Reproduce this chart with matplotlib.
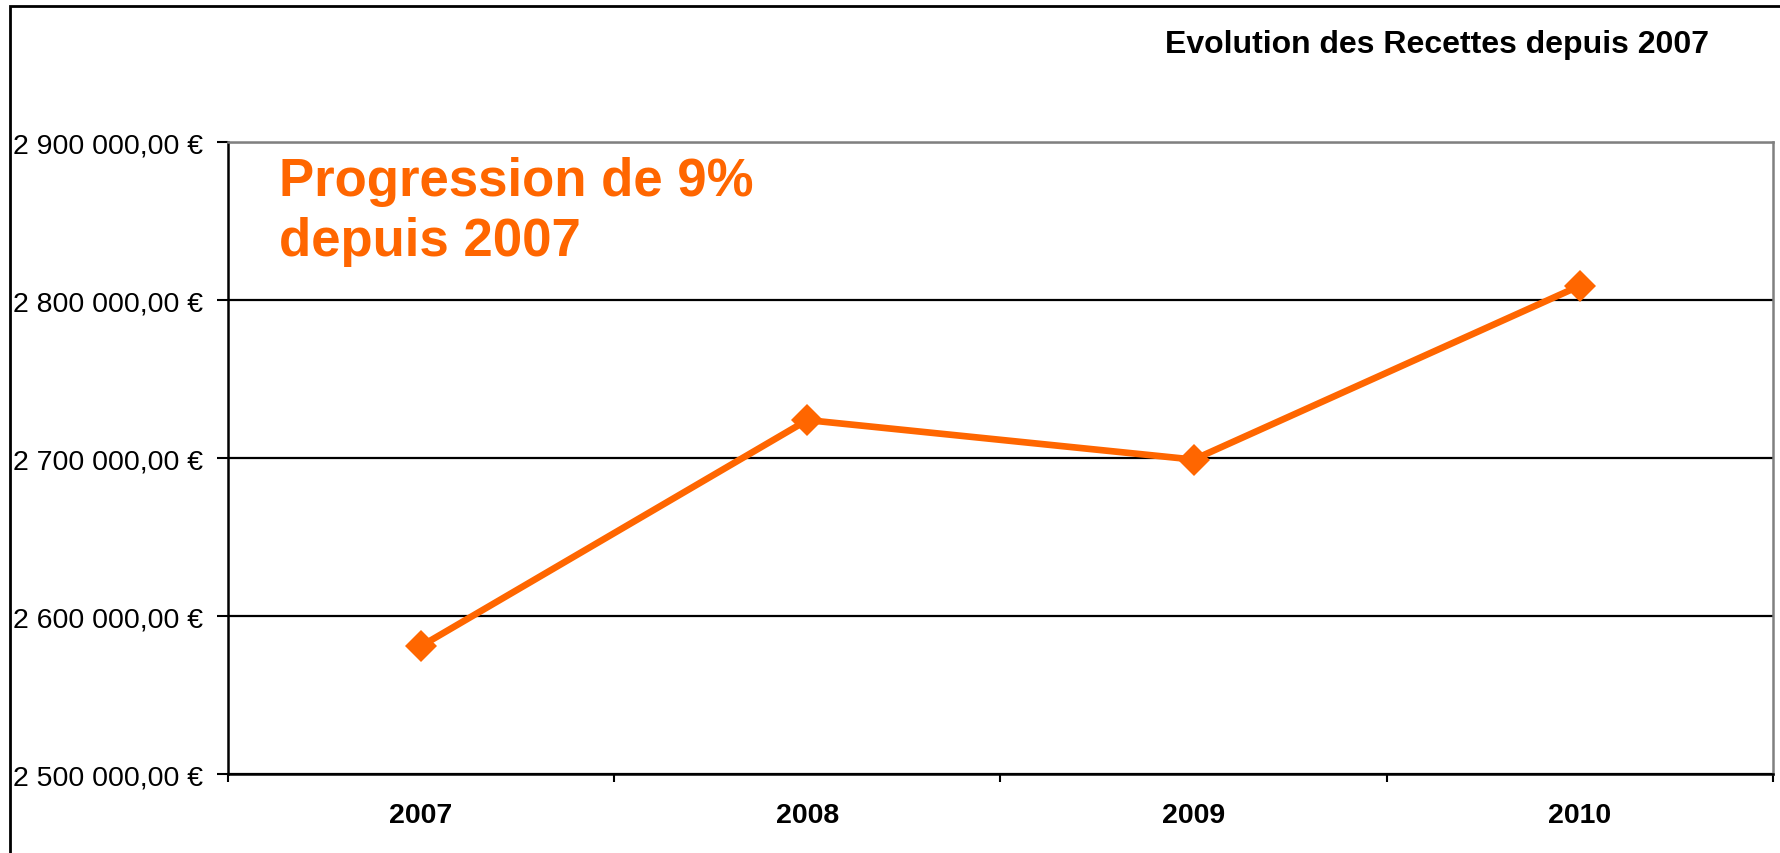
import matplotlib
matplotlib.use("Agg")
import matplotlib.pyplot as plt
from matplotlib.ticker import FuncFormatter, FixedLocator
from matplotlib.patches import Rectangle

plt.rcParams['font.family'] = ['Liberation Sans', 'DejaVu Sans']

# data
years = ["2007", "2008", "2009", "2010"]
recettes = [2581000, 2724000, 2699000, 2809000]

orange = '#FF6600'

def euro(v, pos):
    s = "{:,.2f}".format(v).replace(",", " ").replace(".", ",")
    return s + " €"

fig = plt.figure(figsize=(17.81, 8.54), dpi=100)
ax = fig.add_axes([228/1781, 1-775/854, (1773-228)/1781, (775-143)/854])

x = list(range(len(years)))
ax.plot(x, recettes, color=orange, linewidth=4.8, marker='D', markersize=16,
        markeredgewidth=0, zorder=3)

ax.set_xlim(-0.5, len(years) - 0.5)
ax.set_ylim(2500000, 2900000)
ax.set_yticks([2500000, 2600000, 2700000, 2800000, 2900000])
ax.yaxis.set_major_formatter(FuncFormatter(euro))
ax.yaxis.grid(True, color='black', linewidth=1.6)
ax.set_axisbelow(True)

# ticks between categories, labels centred on each one
ax.xaxis.set_major_locator(FixedLocator([i - 0.5 for i in range(len(years) + 1)]))
ax.xaxis.set_major_formatter(FuncFormatter(lambda v, p: ""))
ax.xaxis.set_minor_locator(FixedLocator(x))
ax.set_xticklabels(years, minor=True, fontsize=20.5, fontweight='bold')
ax.tick_params(axis='x', which='minor', length=0, pad=20)
ax.tick_params(axis='x', which='major', length=6, width=1.5, direction='out')
ax.tick_params(axis='y', length=8, width=1.5, pad=10, labelsize=20.5)

for side in ['left', 'bottom']:
    ax.spines[side].set_color('black')
    ax.spines[side].set_linewidth(1.8)
for side in ['top', 'right']:
    ax.spines[side].set_color('#808080')
    ax.spines[side].set_linewidth(1.8)

ax.text(279/1781, 1-157/854, "Progression de 9%\ndepuis 2007", transform=fig.transFigure,
        color=orange, fontsize=38, fontweight='bold', va='top', ha='left', linespacing=1.25)

fig.text(1709/1781, 1-45/854, "Evolution des Recettes depuis 2007", fontsize=23,
         fontweight='bold', ha='right', va='center')

# outer chart frame, cut by the image edges
fig.patches.append(Rectangle((10/1781, -0.2), 1.2, 1.2 - 7/854, transform=fig.transFigure,
                             fill=False, edgecolor='black', linewidth=2, clip_on=False))

fig.savefig("out.png", dpi=100)
